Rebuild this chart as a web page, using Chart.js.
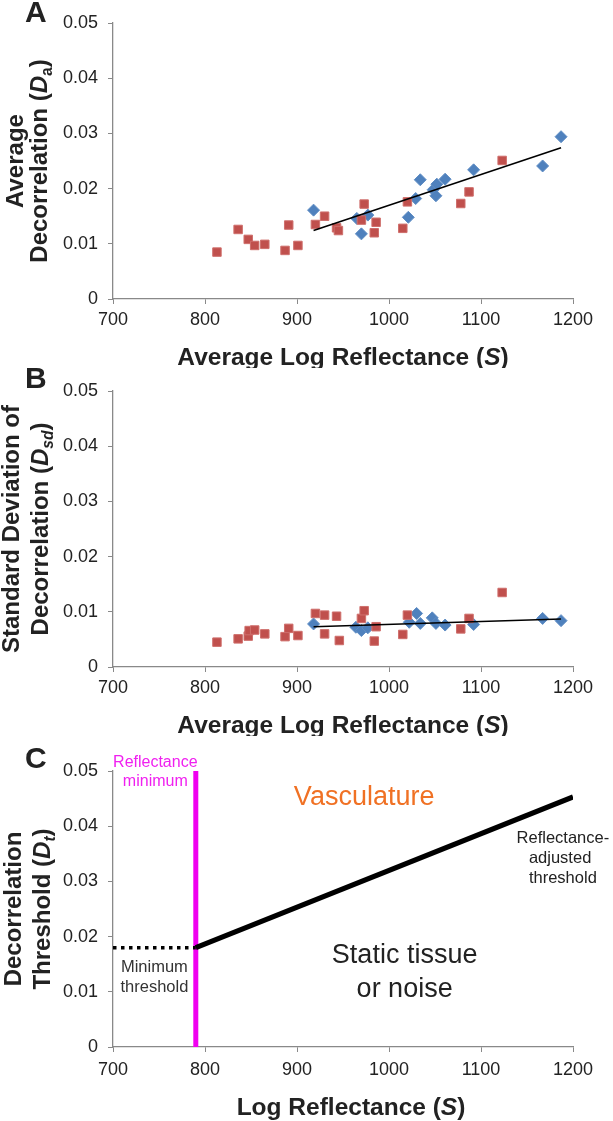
<!DOCTYPE html>
<html>
<head>
<meta charset="utf-8">
<script src="https://cdn.jsdelivr.net/npm/chart.js@4"></script>
<style>
    body { margin: 0; background: #fff; width: 613px; height: 1121px; position: relative; overflow: hidden; }
    canvas { position: absolute; left: 0; }
</style>
</head>
<body>
<canvas id="panel-a" width="613" height="368" style="top:0"></canvas>
<canvas id="panel-b" width="613" height="368" style="top:368px"></canvas>
<canvas id="panel-c" width="613" height="385" style="top:736px"></canvas>
<script>
const xTicks = [700, 800, 900, 1000, 1100, 1200];
const yTicks = [0, 0.01, 0.02, 0.03, 0.04, 0.05];

// Panel A - average decorrelation
const redA_S = [813, 836, 847, 854, 865, 887, 891, 901, 920, 930, 943, 945, 970, 973, 984, 986, 1015, 1020, 1078, 1087, 1123];
const redA_D = [0.0085, 0.0126, 0.0108, 0.0097, 0.0099, 0.0088, 0.0134, 0.0097, 0.0135, 0.0150, 0.0129, 0.0124, 0.0143, 0.0172, 0.0120, 0.0139, 0.0128, 0.0176, 0.0173, 0.0194, 0.0251];
const blueA_S = [918, 965, 970, 977, 1021, 1029, 1034, 1048, 1051, 1052, 1061, 1092, 1167, 1187];
const blueA_D = [0.0161, 0.0146, 0.0118, 0.0152, 0.0148, 0.0182, 0.0216, 0.0198, 0.0187, 0.0208, 0.0217, 0.0234, 0.0241, 0.0294];
const trendA_S = [918, 1187];
const trendA_D = [0.0124, 0.0274];

// Panel B - standard deviation of decorrelation
const redB_S = [813, 836, 847, 848, 854, 865, 887, 891, 901, 920, 930, 930, 943, 946, 970, 973, 984, 986, 1015, 1020, 1078, 1087, 1123];
const redB_D = [0.0045, 0.0051, 0.0056, 0.0066, 0.0067, 0.0060, 0.0055, 0.0070, 0.0057, 0.0097, 0.0094, 0.0060, 0.0092, 0.0048, 0.0088, 0.0102, 0.0047, 0.0073, 0.0059, 0.0094, 0.0069, 0.0088, 0.0135];
const blueB_S = [918, 964, 970, 977, 1022, 1030, 1034, 1047, 1051, 1061, 1092, 1167, 1187];
const blueB_D = [0.0078, 0.0072, 0.0066, 0.0071, 0.0081, 0.0097, 0.0079, 0.0089, 0.0079, 0.0076, 0.0077, 0.0088, 0.0084];
const trendB_S = [918, 1187];
const trendB_D = [0.0073, 0.0087];

// Panel C - threshold model
const reflMin_S = [790, 790];
const reflMin_D = [0, 0.05];
const minThresh_S = [700, 790];
const minThresh_D = [0.018, 0.018];
const adjThresh_S = [790, 1200];
const adjThresh_D = [0.018, 0.0453];

const FONT = "'Liberation Sans', Arial, sans-serif";
const TEXT = '#222';
const AXIS = '#898989';
const RED = '#C0504D';
const BLUE = '#4F81BD';

const pts = (xs, ys) => xs.map((x, i) => ({ x: x, y: ys[i] }));

function fontStr(size, bold, italic) {
    return (italic ? 'italic ' : '') + (bold ? 'bold ' : '') + size + 'px ' + FONT;
}

// draw a line of text made of runs (italic / subscript parts), centred on x
function drawRuns(ctx, runs, cx, y, size, bold, rotate) {
    const parts = runs.map(r => {
        const s = r.sub ? size * 0.65 : size;
        ctx.font = fontStr(s, bold, r.italic);
        return { r: r, s: s, w: ctx.measureText(r.t).width };
    });
    const total = parts.reduce((a, p) => a + p.w, 0);
    ctx.save();
    ctx.translate(cx, y);
    if (rotate) ctx.rotate(-Math.PI / 2);
    let x = -total / 2;
    ctx.textBaseline = 'alphabetic';
    ctx.textAlign = 'left';
    parts.forEach(p => {
        ctx.font = fontStr(p.s, bold, p.r.italic);
        ctx.fillText(p.r.t, x, p.r.sub ? size * 0.22 : 0);
        x += p.w;
    });
    ctx.restore();
}

function decorPlugin(cfg) {
    return {
        id: 'decor',
        afterDraw(chart) {
            const ctx = chart.ctx;
            const area = chart.chartArea;
            ctx.save();
            ctx.fillStyle = TEXT;
            // panel letter
            ctx.font = fontStr(30, true);
            ctx.textAlign = 'left';
            ctx.fillText(cfg.letter, 25, cfg.letterY);
            // y title (rotated, two lines)
            const cy = (area.top + area.bottom) / 2;
            cfg.yTitle.forEach((line, i) => drawRuns(ctx, line, cfg.yTitleX[i], cy, 24, true, true));
            // x title
            drawRuns(ctx, cfg.xTitle, (area.left + area.right) / 2 + (cfg.xTitleShift || 0), area.bottom + cfg.xTitleGap, 24.5, true, false);
            // free notes placed in data coordinates
            (cfg.notes || []).forEach(n => {
                ctx.font = fontStr(n.size, false);
                ctx.fillStyle = n.color;
                ctx.textAlign = 'center';
                ctx.fillText(n.text, chart.scales.x.getPixelForValue(n.x), chart.scales.y.getPixelForValue(n.y));
            });
            ctx.restore();
        }
    };
}

function makePanel(id, datasets, cfg) {
    const ctx = document.getElementById(id).getContext('2d');
    return new Chart(ctx, {
        type: 'scatter',
        data: { datasets: datasets },
        options: {
            responsive: false,
            animation: false,
            devicePixelRatio: 1,
            layout: { padding: { left: 0, top: cfg.top, right: 40, bottom: 0 } },
            plugins: { legend: { display: false }, tooltip: { enabled: false } },
            scales: {
                x: {
                    type: 'linear',
                    min: 700,
                    max: 1200,
                    afterBuildTicks: s => { s.ticks = xTicks.map(v => ({ value: v })); },
                    afterFit: s => { s.height = cfg.xHeight; },
                    ticks: {
                        color: TEXT,
                        font: { size: 18, family: FONT },
                        padding: cfg.xPad,
                        maxRotation: 0,
                        autoSkip: false,
                        callback: v => String(v)
                    },
                    grid: { drawOnChartArea: false, tickLength: 5, color: AXIS },
                    border: { color: AXIS, width: 1.3 }
                },
                y: {
                    type: 'linear',
                    min: 0,
                    max: 0.05,
                    afterBuildTicks: s => { s.ticks = yTicks.map(v => ({ value: v })); },
                    afterFit: s => { s.width = 113; },
                    ticks: {
                        color: TEXT,
                        font: { size: 18, family: FONT },
                        padding: 10,
                        callback: v => v === 0 ? '0' : v.toFixed(2)
                    },
                    grid: { drawOnChartArea: false, tickLength: 5, color: AXIS },
                    border: { color: AXIS, width: 1.3 }
                }
            }
        },
        plugins: [decorPlugin(cfg)]
    });
}

function scatterSets(redS, redD, blueS, blueD, trendS, trendD) {
    return [
        { data: pts(trendS, trendD), showLine: true, borderColor: '#000', borderWidth: 1.6, pointRadius: 0 },
        { data: pts(redS, redD), pointStyle: 'rect', pointRadius: 6, backgroundColor: RED, borderColor: '#cf6f6c', borderWidth: 1 },
        { data: pts(blueS, blueD), pointStyle: 'rectRot', pointRadius: 6, backgroundColor: BLUE, borderColor: '#5f8dc4', borderWidth: 1 }
    ];
}

const xTitleAvg = [{ t: 'Average Log Reflectance (' }, { t: 'S', italic: true }, { t: ')' }];

makePanel('panel-a', scatterSets(redA_S, redA_D, blueA_S, blueA_D, trendA_S, trendA_D), {
    top: 23, xHeight: 69, xPad: 5,
    letter: 'A', letterY: 22,
    yTitle: [
        [{ t: 'Average' }],
        [{ t: 'Decorrelation (' }, { t: 'D', italic: true }, { t: 'a', sub: true }, { t: ')' }]
    ],
    yTitleX: [23, 47],
    xTitle: xTitleAvg, xTitleGap: 66
});

makePanel('panel-b', scatterSets(redB_S, redB_D, blueB_S, blueB_D, trendB_S, trendB_D), {
    top: 23, xHeight: 69, xPad: 5,
    letter: 'B', letterY: 20,
    yTitle: [
        [{ t: 'Standard Deviation of' }],
        [{ t: 'Decorrelation (' }, { t: 'D', italic: true }, { t: 'sd', sub: true, italic: true }, { t: ')' }]
    ],
    yTitleX: [19, 48],
    xTitle: xTitleAvg, xTitleGap: 66
});

makePanel('panel-c', [
    { data: pts(adjThresh_S, adjThresh_D), showLine: true, borderColor: '#000', borderWidth: 5, pointRadius: 0 },
    { data: pts(minThresh_S, minThresh_D), showLine: true, borderColor: '#000', borderWidth: 3.5, borderDash: [3.5, 4.5], pointRadius: 0 },
    { data: pts(reflMin_S, reflMin_D), showLine: true, borderColor: '#f000f0', borderWidth: 5, pointRadius: 0 }
], {
    top: 35, xHeight: 74, xPad: 7,
    letter: 'C', letterY: 32,
    yTitle: [
        [{ t: 'Decorrelation' }],
        [{ t: 'Threshold (' }, { t: 'D', italic: true }, { t: 't', sub: true, italic: true }, { t: ')' }]
    ],
    yTitleX: [21, 50],
    xTitle: [{ t: 'Log Reflectance (' }, { t: 'S', italic: true }, { t: ')' }], xTitleGap: 68, xTitleShift: 8,
    notes: [
        { text: 'Reflectance', x: 746, y: 0.0508, size: 16, color: '#f020f0' },
        { text: 'minimum', x: 746, y: 0.0472, size: 16, color: '#f020f0' },
        { text: 'Vasculature', x: 973, y: 0.0439, size: 27, color: '#f07124' },
        { text: 'Reflectance-', x: 1189, y: 0.0370, size: 16.5, color: TEXT },
        { text: 'adjusted', x: 1186, y: 0.0334, size: 16.5, color: TEXT },
        { text: 'threshold', x: 1189, y: 0.0298, size: 16.5, color: TEXT },
        { text: 'Static tissue', x: 1017, y: 0.0153, size: 27, color: TEXT },
        { text: 'or noise', x: 1017, y: 0.0091, size: 27, color: TEXT },
        { text: 'Minimum', x: 745, y: 0.0136, size: 16.5, color: '#333' },
        { text: 'threshold', x: 745, y: 0.0100, size: 16.5, color: '#333' }
    ]
});
</script>
</body>
</html>
